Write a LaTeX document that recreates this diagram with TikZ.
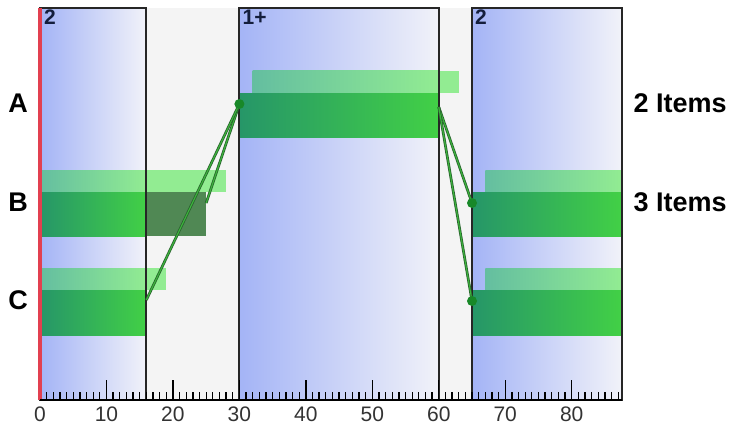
\documentclass[tikz,border=0pt]{standalone}
\usepackage{fontspec}
\setmainfont{Liberation Sans}
\definecolor{phaseblue}{RGB}{164,180,246}
\definecolor{phasewhite}{RGB}{241,242,249}
\definecolor{plotgray}{RGB}{244,244,244}
\definecolor{litestart}{RGB}{100,190,160}
\definecolor{liteend}{RGB}{146,236,146}
\definecolor{darkstart}{RGB}{38,150,104}
\definecolor{darkend}{RGB}{66,208,70}
\definecolor{overdue}{RGB}{80,136,84}
\definecolor{linkdark}{RGB}{40,100,45}
\definecolor{linkgreen}{RGB}{60,180,60}
\definecolor{dotgreen}{RGB}{24,136,40}
\definecolor{startred}{RGB}{226,64,80}
\definecolor{labnavy}{RGB}{20,30,60}

\begin{document}
\begin{tikzpicture}[x=6.646pt, y=-1pt]
  \tikzset{
      phase/.style={left color=phaseblue, right color=phasewhite},
      phaseedge/.style={draw=black!85, line width=1.9pt},
      litebar/.style={left color=litestart, right color=liteend},
      darkbar/.style={left color=darkstart, right color=darkend},
      link/.style={draw=linkdark, double=linkgreen, double distance=1.1pt, line width=0.8pt},
      dot/.style={circle, fill=dotgreen, inner sep=0pt, minimum size=10pt},
      rowlab/.style={inner sep=0pt, font=\fontsize{27}{29}\selectfont\bfseries},
      phaselab/.style={anchor=north west, inner sep=0pt, text=labnavy, font=\fontsize{21}{22}\selectfont\bfseries},
      ticklab/.style={anchor=north, inner sep=0pt, text=black!80, font=\fontsize{21}{22}\selectfont}
  }
  \useasboundingbox (-6.019,0) rectangle (104.57,430);
  \fill[plotgray] (0,8) rectangle (87.5,400);

  % phases
  \shade[phase] (0,8) rectangle (16,400);
  \shade[phase] (30,8) rectangle (60,400);
  \shade[phase] (65,8) rectangle (87.5,400);

  % row A
  \shade[litebar] (32,71) rectangle (60,93);
  \fill[liteend] (60,71) rectangle (63,93);
  \shade[darkbar] (30,93) rectangle (60,137);
  % row B
  \shade[litebar] (0,170) rectangle (16,192);
  \fill[liteend] (16,170) rectangle (28,192);
  \shade[darkbar] (0,192) rectangle (16,236);
  \fill[overdue] (16,192) rectangle (25,236);
  \shade[litebar] (67,170) rectangle (87.5,192);
  \shade[darkbar] (65,192) rectangle (87.5,236);
  % row C
  \shade[litebar] (0,268) rectangle (16,290);
  \fill[liteend] (16,268) rectangle (19,290);
  \shade[darkbar] (0,290) rectangle (16,335);
  \shade[litebar] (67,268) rectangle (87.5,290);
  \shade[darkbar] (65,290) rectangle (87.5,335);

  \draw[phaseedge] (0,8) rectangle (16,400);
  \draw[phaseedge] (30,8) rectangle (60,400);
  \draw[phaseedge] (65,8) rectangle (87.5,400);
  \draw[startred, line width=3.5pt] (0,8) -- (0,400);

  \node[phaselab] (ph1) at (0.6,10) {2};
  \node[phaselab] (ph2) at (30.45,10) {1+};
  \node[phaselab] (ph3) at (65.45,10) {2};

  % links
  \coordinate (bEnd) at (25,203);
  \coordinate (cEnd) at (16,300);
  \coordinate (aOut) at (60,107);
  \coordinate (aIn) at (30,104);
  \coordinate (bIn) at (65,203);
  \coordinate (cIn) at (65,301);
  \draw[link] (aIn) -- (bEnd);
  \draw[link] (aIn) -- (cEnd);
  \draw[link] (aOut) -- (bIn);
  \draw[link] (aOut) -- (cIn);
  \node[dot] (aDot) at (aIn) {};
  \node[dot] (bDot) at (bIn) {};
  \node[dot] (cDot) at (cIn) {};

  % axis
  \draw[line width=1.9pt] (0,400) -- (87.5,400);
  \foreach \i in {1,...,87}
      \draw[line width=1.3pt] (\i,400) -- (\i,392);
  \foreach \i in {10,20,...,80}
      \draw[line width=1.3pt] (\i,400) -- (\i,380);
  \foreach \i in {0,10,...,80}
      \node[ticklab] (t\i) at (\i,407) {\i};

  \node[rowlab] (ra) at (-3.3,103) {A};
  \node[rowlab] (rb) at (-3.3,202) {B};
  \node[rowlab] (rc) at (-3.3,300) {C};
  \node[rowlab, anchor=west] (na) at (89.3,103) {2 Items};
  \node[rowlab, anchor=west] (nb) at (89.3,202) {3 Items};
\end{tikzpicture}
\end{document}
